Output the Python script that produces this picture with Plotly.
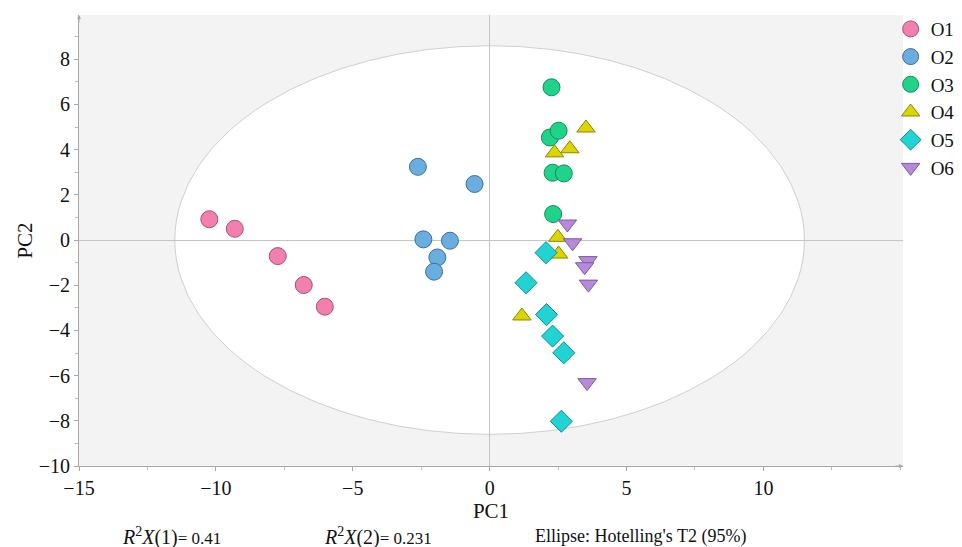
import plotly.graph_objects as go

groups = ["O1", "O2", "O3", "O4", "O5", "O6"]
o1_x = [-10.24, -9.31, -7.74, -6.79, -6.02]
o1_y = [0.92, 0.50, -0.71, -1.99, -2.95]
o2_x = [-2.62, -0.55, -2.42, -1.45, -1.91, -2.03]
o2_y = [3.24, 2.48, 0.03, -0.03, -0.77, -1.40]
o3_x = [2.26, 2.20, 2.52, 2.30, 2.71, 2.32]
o3_y = [6.76, 4.54, 4.84, 2.98, 2.95, 1.15]
o4_x = [3.52, 2.93, 2.37, 2.49, 2.52, 1.18]
o4_y = [4.96, 4.04, 3.86, 0.12, -0.62, -3.36]
o5_x = [2.06, 1.33, 2.08, 2.30, 2.71, 2.62]
o5_y = [-0.56, -1.89, -3.30, -4.25, -4.99, -8.02]
o6_x = [2.84, 3.03, 3.59, 3.47, 3.61, 3.56]
o6_y = [0.71, -0.12, -0.91, -1.18, -1.95, -6.31]

ellipse_a = 11.5   # Hotelling's T2 (95%) semi-axis along PC1
ellipse_b = 8.6    # semi-axis along PC2

xtick_vals = [-15, -10, -5, 0, 5, 10]
ytick_vals = [-10, -8, -6, -4, -2, 0, 2, 4, 6, 8]

r2x1 = 0.41
r2x2 = 0.231

xs = [o1_x, o2_x, o3_x, o4_x, o5_x, o6_x]
ys = [o1_y, o2_y, o3_y, o4_y, o5_y, o6_y]
symbols = ["circle", "circle", "circle", "triangle-up", "diamond", "triangle-down"]
fills = ["#f27fae", "#6aaee0", "#1fd48a", "#dcd600", "#22d3d3", "#b68ad9"]
edges = ["#a8507a", "#3e6f9c", "#158a58", "#8c8700", "#0f8f90", "#7b5aa3"]
sizes = [17, 17, 17, 16, 17, 16]

fig = go.Figure()
for name, x, y, sym, fc, ec, s in zip(groups, xs, ys, symbols, fills, edges, sizes):
    fig.add_trace(go.Scatter(
        x=x, y=y, mode="markers", name=name,
        marker=dict(symbol=sym, size=s, color=fc, line=dict(color=ec, width=1)),
    ))

fig.add_shape(type="circle", xref="x", yref="y",
              x0=-ellipse_a, x1=ellipse_a, y0=-ellipse_b, y1=ellipse_b,
              fillcolor="white", line=dict(color="#cfcfcf", width=1), layer="below")

font_family = "Times New Roman, Liberation Serif, DejaVu Serif, serif"
axis_common = dict(
    showgrid=False, zeroline=True, zerolinecolor="#c4c4c4", zerolinewidth=1,
    showline=True, linecolor="#a8a8a8", linewidth=1,
    ticks="outside", ticklen=4, tickcolor="#a8a8a8", automargin=False,
    tickfont=dict(family=font_family, size=20, color="#111"),
)
fig.update_xaxes(range=[-15, 15.1], tickvals=xtick_vals,
                 ticktext=["\u221215", "\u221210", "\u22125", "0", "5", "10"],
                 minor=dict(dtick=2.5, ticks="outside", ticklen=3, tickcolor="#bbbbbb"),
                 title=dict(text="PC1", font=dict(family=font_family, size=21, color="#111"), standoff=4),
                 **axis_common)
fig.update_yaxes(range=[-10, 9.96], tickvals=ytick_vals,
                 ticktext=["\u221210", "\u22128", "\u22126", "\u22124", "\u22122", "0", "2", "4", "6", "8"],
                 minor=dict(dtick=1, ticks="outside", ticklen=3, tickcolor="#bbbbbb"),
                 title=dict(text="PC2", font=dict(family=font_family, size=21, color="#111"), standoff=0),
                 **axis_common)

annotations = [
    dict(xref="paper", yref="paper", x=1.0, y=0, ax=-9, ay=0, text="", showarrow=True,
         arrowhead=2, arrowsize=0.8, arrowwidth=1, arrowcolor="#a8a8a8"),
    dict(xref="paper", yref="paper", x=0, y=1.0, ax=0, ay=9, text="", showarrow=True,
         arrowhead=2, arrowsize=0.8, arrowwidth=1, arrowcolor="#a8a8a8"),
    dict(xref="paper", yref="paper", x=0.05, y=-0.157, xanchor="left", yanchor="middle",
         showarrow=False,
         text=f"<span style='font-size:20px'><i>R</i><sup>2</sup><i>X</i>(1)</span>= {r2x1}",
         font=dict(family=font_family, size=17, color="#111")),
    dict(xref="paper", yref="paper", x=0.295, y=-0.157, xanchor="left", yanchor="middle",
         showarrow=False,
         text=f"<span style='font-size:20px'><i>R</i><sup>2</sup><i>X</i>(2)</span>= {r2x2}",
         font=dict(family=font_family, size=17, color="#111")),
    dict(xref="paper", yref="paper", x=0.551, y=-0.157, xanchor="left", yanchor="middle",
         showarrow=False, text="Ellipse: Hotelling's T2 (95%)",
         font=dict(family=font_family, size=18, color="#111")),
]

fig.update_layout(
    width=954, height=539,
    margin=dict(l=71, r=59, t=7, b=81, autoexpand=False),
    paper_bgcolor="white", plot_bgcolor="#f3f3f3",
    font=dict(family=font_family, color="#111"),
    legend=dict(x=0.985, y=1.011, xanchor="left", yanchor="top",
                font=dict(family=font_family, size=19, color="#111"),
                itemwidth=30, tracegroupgap=0, bgcolor="rgba(0,0,0,0)"),
    annotations=annotations,
    showlegend=True,
)

fig.write_html("out.html")
